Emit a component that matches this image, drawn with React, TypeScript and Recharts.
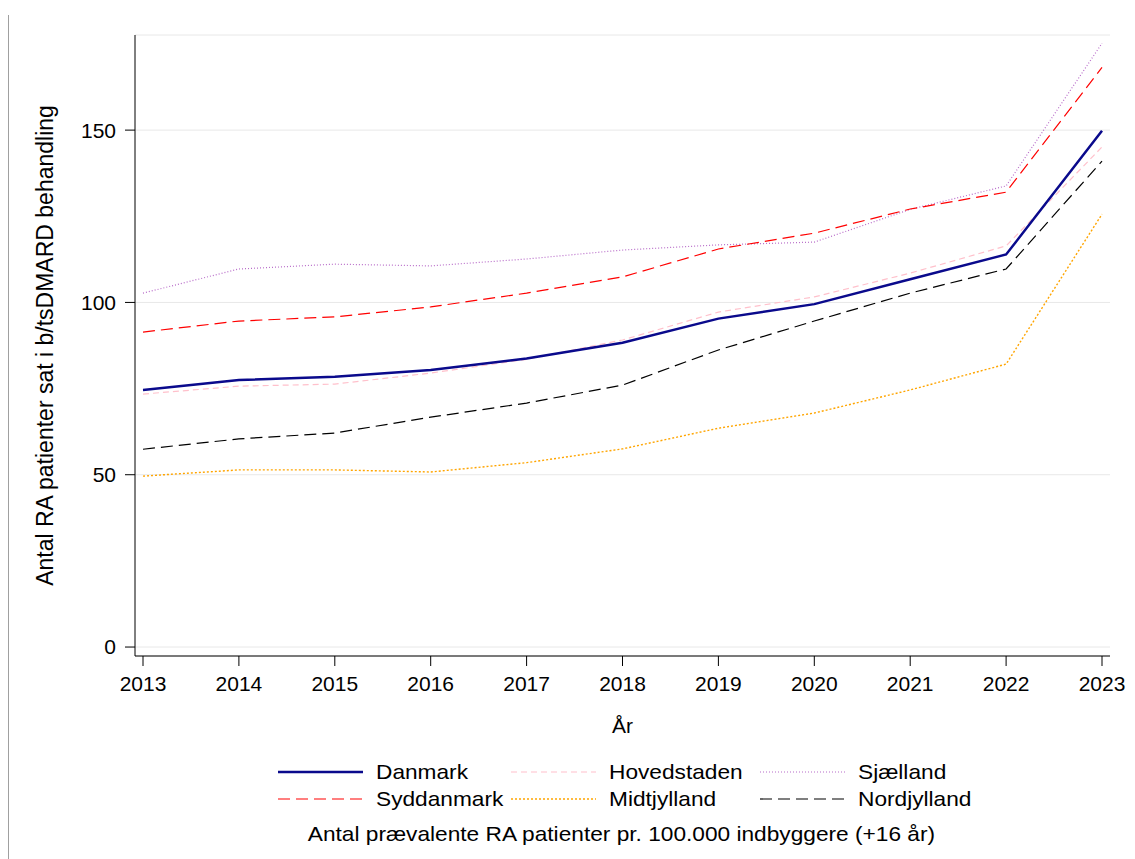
import { LineChart, Line, XAxis, YAxis, CartesianGrid, Legend, Label } from 'recharts'

const years = [2013, 2014, 2015, 2016, 2017, 2018, 2019, 2020, 2021, 2022, 2023]
const danmark = [74.6, 77.5, 78.4, 80.4, 83.7, 88.3, 95.3, 99.5, 106.7, 113.9, 149.8]
const hovedstaden = [73.4, 75.7, 76.3, 79.5, 83.5, 89.1, 97.2, 101.6, 108.5, 116.4, 145.1]
const sjaelland = [102.7, 109.7, 111.1, 110.6, 112.6, 115.2, 116.7, 117.5, 127.0, 133.8, 175.2]
const syddanmark = [91.4, 94.6, 95.8, 98.7, 102.7, 107.4, 115.5, 120.1, 127.1, 132.0, 168.2]
const midtjylland = [49.6, 51.4, 51.4, 50.8, 53.5, 57.5, 63.5, 67.9, 74.6, 82.1, 125.6]
const nordjylland = [57.4, 60.4, 62.1, 66.7, 70.8, 76.0, 86.2, 94.6, 102.7, 109.7, 141.0]
const yTicks = [0, 50, 100, 150]

const FONT = '"Liberation Sans", Arial, sans-serif'

// legend order: row by row, 3 columns
const series = [
  { key: 'Danmark', color: '#0a0a8c', dash: undefined as string | undefined, width: 2.5 },
  { key: 'Hovedstaden', color: '#ffc0cb', dash: '6 4', width: 1.2 },
  { key: 'Sjælland', color: '#b86cc9', dash: '1 2', width: 1.2 },
  { key: 'Syddanmark', color: '#ff0000', dash: '12 6', width: 1.2 },
  { key: 'Midtjylland', color: '#ffa500', dash: '2 2', width: 1.4 },
  { key: 'Nordjylland', color: '#000000', dash: '12 6', width: 1.2 },
]
const legendCols = [278, 511, 760]

const data = years.map((y, i) => ({
  year: y,
  Danmark: danmark[i],
  Hovedstaden: hovedstaden[i],
  'Sjælland': sjaelland[i],
  Syddanmark: syddanmark[i],
  Midtjylland: midtjylland[i],
  Nordjylland: nordjylland[i],
}))

const stretch = { display: 'inline-block', transform: 'scaleX(1.08)', transformOrigin: 'left center' }

function LegendBox() {
  return (
    <div style={{ position: 'relative', width: 1135, height: 100, fontFamily: FONT, fontSize: 21, color: '#000' }}>
      {series.map((s, i) => {
        const col = i % 3
        const row = Math.floor(i / 3)
        return (
          <div key={s.key} style={{ position: 'absolute', left: legendCols[col], top: row * 27, height: 26, display: 'flex', alignItems: 'center' }}>
            <svg width={86} height={10}>
              <line x1={0} y1={5} x2={85} y2={5} stroke={s.color} strokeWidth={s.width} strokeDasharray={s.dash} />
            </svg>
            <span style={{ marginLeft: 12, ...stretch }}>{s.key}</span>
          </div>
        )
      })}
      <div style={{ position: 'absolute', left: 0, width: 1243, top: 63, textAlign: 'center' }}>
        <span style={{ ...stretch, transformOrigin: 'center center' }}>
          Antal prævalente RA patienter pr. 100.000 indbyggere (+16 år)
        </span>
      </div>
    </div>
  )
}

export default function App() {
  const drawOrder = ['Hovedstaden', 'Sjælland', 'Syddanmark', 'Midtjylland', 'Nordjylland', 'Danmark']
  return (
    <div style={{ position: 'absolute', top: 0, left: 0, width: 1135, height: 859, background: '#fff' }}>
      <div style={{ position: 'absolute', left: 8, top: 15, height: 844, borderLeft: '1px solid #a0a0a0' }} />
      <LineChart width={1135} height={859} data={data} margin={{ top: 35, right: 25, left: 35, bottom: 123 }} style={{ fontFamily: FONT }}>
        <CartesianGrid horizontal vertical={false} stroke="#e8e8e8" />
        <XAxis dataKey="year" padding={{ left: 8, right: 8 }} height={80} stroke="#000" tickSize={10} tickMargin={10}
          tick={{ fontSize: 21, fill: '#000' }} interval={0}>
          <Label value="År" position="center" dy={30} style={{ fontSize: 21, fill: '#000' }} />
        </XAxis>
        <YAxis domain={[-2.6, 177.6]} ticks={yTicks} width={100} stroke="#000" tickSize={10} tickMargin={9}
          tick={{ fontSize: 21, fill: '#000' }} allowDataOverflow>
          <Label value="Antal RA patienter sat i b/tsDMARD behandling" angle={-90} position="center" dx={-40}
            style={{ fontSize: 23, fill: '#000', textAnchor: 'middle' }} />
        </YAxis>
        {drawOrder.map(k => {
          const s = series.find(x => x.key === k)!
          return (
            <Line key={k} type="linear" dataKey={k} stroke={s.color} strokeWidth={s.width} strokeDasharray={s.dash}
              dot={false} activeDot={false} isAnimationActive={false} />
          )
        })}
        <Legend layout="horizontal" verticalAlign="middle" align="center" content={() => <LegendBox />}
          wrapperStyle={{ top: 759, left: 0, width: 1135 }} />
      </LineChart>
    </div>
  )
}
